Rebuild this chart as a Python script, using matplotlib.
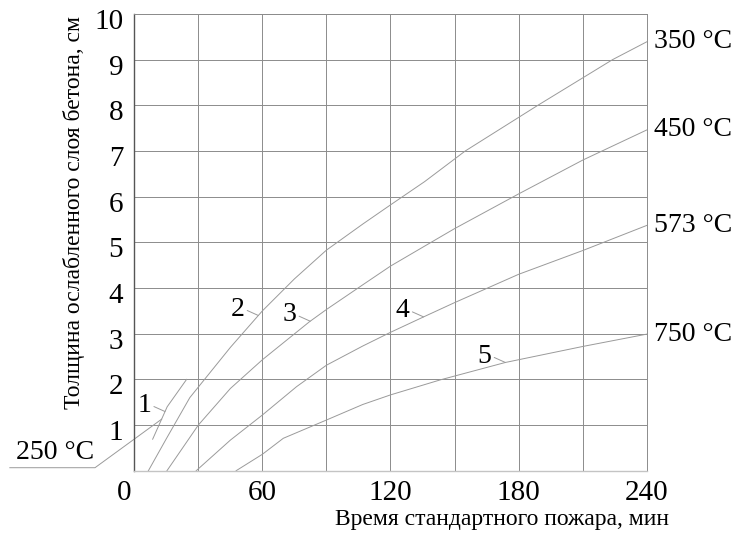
import numpy as np
import matplotlib
matplotlib.use("Agg")
import matplotlib.pyplot as plt
import matplotlib.transforms as mtransforms

plt.rcParams["font.family"] = ["Liberation Serif", "DejaVu Serif"]

# время, мин / толщина ослабленного слоя, см
t1 = [8.6, 15.4, 24.5]
d1 = [0.69, 1.40, 2.0]

t2 = [6.6, 15, 26, 45, 60, 75, 90, 107, 120, 136, 155, 189, 224, 240]
d2 = [0.0, 0.70, 1.6, 2.7, 3.5, 4.2, 4.83, 5.40, 5.82, 6.33, 7.0, 8.0, 9.0, 9.39]

t3 = [15.3, 30, 45, 60, 82, 90, 107, 120, 139, 150, 180, 210, 240]
d3 = [0.0, 1.0, 1.8, 2.43, 3.26, 3.53, 4.07, 4.48, 5.0, 5.30, 6.06, 6.80, 7.46]

t4 = [29, 45, 60, 76, 90, 107, 120, 135.6, 150, 180, 210, 240]
d4 = [0.0, 0.67, 1.22, 1.84, 2.31, 2.73, 3.03, 3.37, 3.68, 4.30, 4.82, 5.37]

t5 = [47.7, 60, 69.8, 90, 107, 120, 143.4, 173.8, 180, 210, 240]
d5 = [0.0, 0.36, 0.71, 1.11, 1.45, 1.66, 1.99, 2.37, 2.43, 2.72, 2.99]

curves = [(t1, d1), (t2, d2), (t3, d3), (t4, d4), (t5, d5)]
temps = ["250 °C", "350 °C", "450 °C", "573 °C", "750 °C"]
numbers = ["1", "2", "3", "4", "5"]
num_at = [14.4, 58.1, 82.4, 135.5, 173.8]   # where the number leader touches

xticks = [0, 60, 120, 180, 240]
yticks = [1, 2, 3, 4, 5, 6, 7, 8, 9, 10]

LINE = "#9a9a9a"
GRID = "#8c8c8c"

fig = plt.figure(figsize=(7.44, 5.40), dpi=100)
ax = fig.add_axes([0.1805, 0.1283, 0.6887, 0.8458])
ax.set_xlim(0, 240)
ax.set_ylim(0, 10)

ax.set_xticks(xticks)
ax.set_xticks(np.arange(30, 240, 60), minor=True)
ax.set_yticks(yticks)
ax.grid(True, which="both", color=GRID, lw=0.7)
ax.set_axisbelow(True)
ax.tick_params(which="both", length=0, labelsize=21)
ax.tick_params(axis="x", pad=7)
ax.tick_params(axis="y", pad=8)

for side in ["top", "right"]:
    ax.spines[side].set_color(GRID)
    ax.spines[side].set_linewidth(0.7)
ax.spines["left"].set_color("#555555")
ax.spines["left"].set_linewidth(1.0)
ax.spines["bottom"].set_color("#c4c4c4")
ax.spines["bottom"].set_linewidth(1.0)

# labels sit a little low on the y axis, "0" a little to the left
down = mtransforms.ScaledTranslation(0, -0.05, fig.dpi_scale_trans)
for lab in ax.get_yticklabels():
    lab.set_transform(lab.get_transform() + down)
left = mtransforms.ScaledTranslation(-0.10, 0, fig.dpi_scale_trans)
xl = ax.get_xticklabels()
xl[0].set_transform(xl[0].get_transform() + left)

for (t, d) in curves:
    ax.plot(t, d, color=LINE, lw=0.7)

# temperature labels at the ends of curves 2-5
for (t, d), txt in zip(curves[1:], temps[1:]):
    ax.annotate(txt, xy=(t[-1], d[-1]), xytext=(5, 0), textcoords="offset points",
                ha="left", va="center", fontsize=20, annotation_clip=False)

# 250 °C label with a bent leader down to curve 1
tip = (12.8, np.interp(12.8, t1, d1))
ax.plot([-58.3, -18.4, tip[0]], [0.066, 0.066, tip[1]], color=LINE, lw=0.7, clip_on=False)
ax.text(-37.2, 0.39, temps[0], ha="center", va="center", fontsize=20, clip_on=False)

# curve numbers with short leaders
for (t, d), n, tx in zip(curves, numbers, num_at):
    ty = np.interp(tx, t, d)
    ax.annotate(n, xy=(tx, ty), xytext=(-15, 4.5), textcoords="offset points",
                ha="center", va="center", fontsize=20,
                arrowprops=dict(arrowstyle="-", color=LINE, lw=0.7,
                                shrinkA=0, shrinkB=0, relpos=(1.0, 0.5)))

ax.text(0.7176, -0.106, "Время стандартного пожара, мин", transform=ax.transAxes,
        ha="center", va="center", fontsize=17)
ax.text(-0.118, 0.566, "Толщина ослабленного слоя бетона, см", transform=ax.transAxes,
        ha="center", va="center", rotation=90, fontsize=17)

fig.savefig("out.png", dpi=100, facecolor="white")
